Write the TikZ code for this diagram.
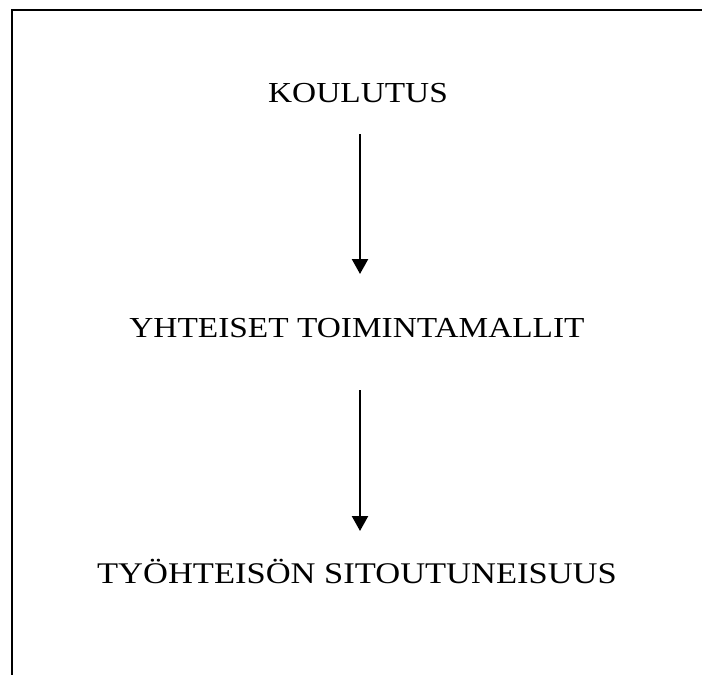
\documentclass[tikz,border=0pt]{standalone}
\usepackage{fontspec}
\setmainfont[FakeStretch=1.15]{Liberation Serif}
\usetikzlibrary{arrows.meta}
\tikzset{
  lbl/.style={anchor=base, inner sep=0pt, font=\fontsize{29}{34}\selectfont},
  biglbl/.style={lbl, font=\fontsize{30}{36}\selectfont},
  arr/.style={line width=2.3pt, -{Triangle[length=15pt,width=16pt]}},
  frame/.style={line width=2.2pt, line join=miter}
}
\begin{document}
\begin{tikzpicture}[x=1pt,y=-1pt]
\useasboundingbox (0,0) rectangle (702,675);
\draw[frame] (702,10) -- (12,10) -- (12,675);
\node[lbl] (k) at (358,102) {KOULUTUS};
\node[lbl] (y) at (357,337) {YHTEISET TOIMINTAMALLIT};
\node[biglbl] (t) at (357,583) {TYÖHTEISÖN SITOUTUNEISUUS};
\draw[arr] ([xshift=2pt,yshift=-32pt]k.base) -- ([xshift=3pt,yshift=63pt]y.base);
\draw[arr] ([xshift=3pt,yshift=-53pt]y.base) -- ([xshift=3pt,yshift=52pt]t.base);
\end{tikzpicture}
\end{document}
